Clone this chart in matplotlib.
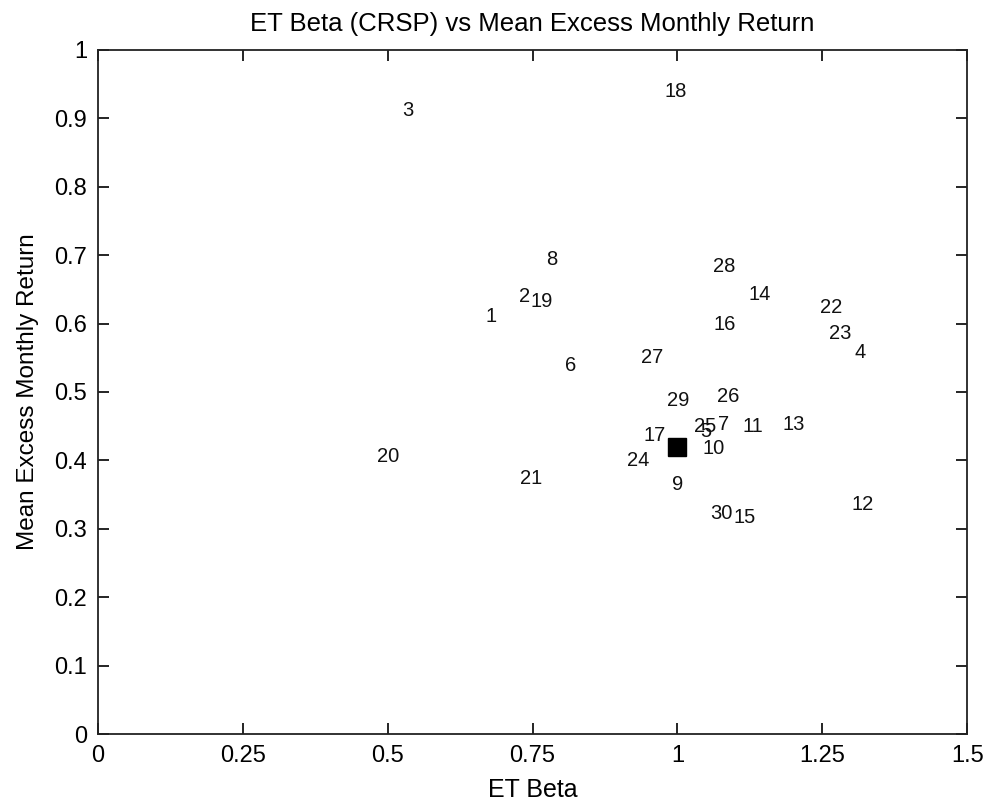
import numpy as np
import matplotlib
matplotlib.use("Agg")
import matplotlib.pyplot as plt

plt.rcParams["font.family"] = ["Liberation Sans", "DejaVu Sans"]

# portfolio betas and mean excess returns
labels = [str(i) for i in range(1, 31)]
beta = [0.668, 0.727, 0.525, 1.305, 1.039, 0.806, 1.070, 0.773, 0.991, 1.044,
        1.113, 1.300, 1.182, 1.122, 1.096, 1.062, 0.941, 0.977, 0.746, 0.482,
        0.728, 1.246, 1.262, 0.913, 1.029, 1.069, 0.937, 1.062, 0.982, 1.056]
ret = [0.611, 0.639, 0.912, 0.558, 0.442, 0.539, 0.452, 0.693, 0.365, 0.418,
       0.449, 0.336, 0.452, 0.643, 0.316, 0.599, 0.436, 0.939, 0.632, 0.406,
       0.374, 0.623, 0.585, 0.400, 0.449, 0.493, 0.551, 0.683, 0.487, 0.323]
mkt_beta, mkt_ret = 1.0, 0.42

xt = [0, 0.25, 0.5, 0.75, 1, 1.25, 1.5]
xtl = ["0", "0.25", "0.5", "0.75", "1", "1.25", "1.5"]
yt = np.arange(0, 1.01, 0.1)
ytl = ["0", "0.1", "0.2", "0.3", "0.4", "0.5", "0.6", "0.7", "0.8", "0.9", "1"]

fig = plt.figure(figsize=(9.9, 8.06), dpi=100)
ax = fig.add_axes([0.099, 0.0893, 0.878, 0.8487])

for b, r, s in zip(beta, ret, labels):
    ax.text(b, r, s, ha="left", va="center", fontsize=14.5, color="#111111")
ax.plot(mkt_beta, mkt_ret, "ks", markersize=12.5)

ax.set_xlim(0, 1.5); ax.set_ylim(0, 1)
ax.set_xticks(xt); ax.set_xticklabels(xtl)
ax.set_yticks(yt); ax.set_yticklabels(ytl)
ax.tick_params(direction="in", top=True, right=True, length=8, width=1.2,
               labelsize=17, pad=8)
for sp in ax.spines.values():
    sp.set_linewidth(1.3)
    sp.set_color("#222222")

ax.set_xlabel("ET Beta", fontsize=18, labelpad=8)
ax.set_ylabel("Mean Excess Monthly Return", fontsize=17.5, labelpad=11)
ax.set_title("ET Beta (CRSP) vs Mean Excess Monthly Return", fontsize=18.5, pad=14)

fig.savefig("out.png", dpi=100)
